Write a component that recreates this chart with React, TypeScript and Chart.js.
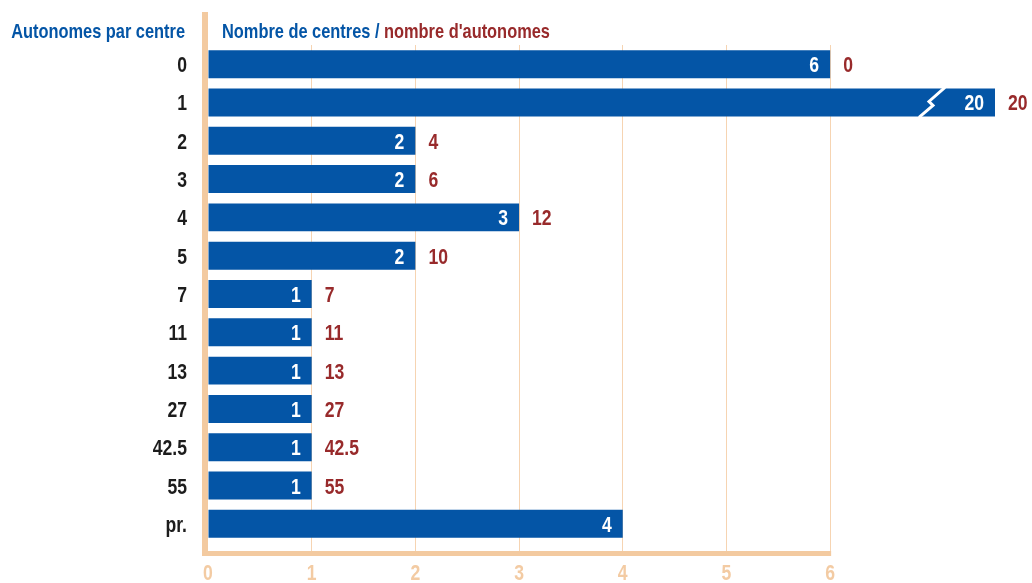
import React, { useEffect, useRef } from 'react';
import { Chart, registerables } from 'chart.js';

Chart.register(...registerables);

// ---- data ----
const categories = ['0', '1', '2', '3', '4', '5', '7', '11', '13', '27', '42.5', '55', 'pr.'];
const centres = [6, 20, 2, 2, 3, 2, 1, 1, 1, 1, 1, 1, 4];
const autonomes: (string | null)[] = ['0', '20', '4', '6', '12', '10', '7', '11', '13', '27', '42.5', '55', null];
const xTickLabels = ['0', '1', '2', '3', '4', '5', '6'];
const xTickMax = 6; // last labelled tick
const brokenIndex = 1; // bar drawn with a break (value exceeds axis)

const headerLeft = 'Autonomes par centre';
const headerBlue = 'Nombre de centres / ';
const headerRed = "nombre d'autonomes";

// ---- style ----
const BLUE = '#0455a6';
const RED = '#982a2b';
const TAN = '#f3caa0';
const TICK = '#f3cba3';
const GRID = '#f6d4b2';
const DARK = '#1c1c1c';
const FONT = "'Liberation Sans', Arial, sans-serif";
const SX = 0.8; // horizontal condensing of text

const W = 1032;
const H = 583;

function text(ctx: any, s: string, x: number, y: number, align: string, font: string, color: string, sx = SX) {
  ctx.save();
  ctx.translate(x, y);
  ctx.scale(sx, 1);
  ctx.font = font;
  ctx.fillStyle = color;
  ctx.textAlign = align;
  ctx.textBaseline = 'alphabetic';
  ctx.fillText(s, 0, 0);
  const w = ctx.measureText(s).width * sx;
  ctx.restore();
  return w;
}

const overlay = {
  id: 'overlay',
  afterDatasetsDraw(chart: any) {
    const { ctx, chartArea } = chart;
    const meta = chart.getDatasetMeta(0);
    const f = `bold 22px ${FONT}`;
    meta.data.forEach((el: any, i: number) => {
      const end = Math.min(el.x, chartArea.right);
      const y = el.y + 8;
      if (i === brokenIndex) {
        const top = el.y - el.height / 2;
        const bot = el.y + el.height / 2;
        const cx = end - 63;
        ctx.save();
        ctx.strokeStyle = '#ffffff';
        ctx.lineWidth = 3;
        ctx.beginPath();
        ctx.moveTo(cx - 13, bot + 1);
        ctx.lineTo(cx + 1, el.y + 3);
        ctx.lineTo(cx - 3, el.y - 1);
        ctx.lineTo(cx + 13, top - 1);
        ctx.stroke();
        ctx.restore();
      }
      text(ctx, String(centres[i]), end - 11, y, 'right', f, '#ffffff');
      const a = autonomes[i];
      if (a !== null) text(ctx, a, end + 13, y, 'left', f, RED);
    });
  },
  afterDraw(chart: any) {
    const { ctx, chartArea } = chart;
    const xs = chart.scales.x;
    const ys = chart.scales.y;
    const bottomY = chartArea.bottom + 8;
    ctx.save();
    ctx.fillStyle = TAN;
    // left axis line
    ctx.fillRect(chartArea.left - 6, 12, 6, bottomY + 5 - 12);
    // bottom axis line
    const xEnd = xs.getPixelForValue(xTickMax) + 1;
    ctx.fillRect(chartArea.left - 6, bottomY, xEnd - (chartArea.left - 6), 5);
    ctx.restore();
    // category labels
    categories.forEach((c, i) => {
      text(ctx, c, chartArea.left - 21, ys.getPixelForValue(i) + 8, 'right', `bold 22px ${FONT}`, DARK);
    });
    // value axis labels
    xTickLabels.forEach((t) => {
      text(ctx, t, xs.getPixelForValue(Number(t)), chartArea.bottom + 37, 'center', `bold 22px ${FONT}`, TICK);
    });
    // headers
    const hf = `bold 21px ${FONT}`;
    text(ctx, headerLeft, 185, 38, 'right', hf, BLUE, 0.78);
    const w = text(ctx, headerBlue, 222, 38, 'left', hf, BLUE, 0.78);
    text(ctx, headerRed, 222 + w, 38, 'left', hf, RED, 0.78);
  },
};

export default function App() {
  const ref = useRef<HTMLCanvasElement>(null);
  useEffect(() => {
    if (!ref.current) return;
    const chart = new Chart(ref.current, {
      type: 'bar',
      data: {
        labels: categories,
        datasets: [
          {
            data: centres,
            backgroundColor: BLUE,
            borderWidth: 0,
            barPercentage: 0.73,
            categoryPercentage: 1,
          },
        ],
      },
      options: {
        indexAxis: 'y',
        animation: false,
        responsive: false,
        maintainAspectRatio: false,
        layout: { padding: { top: 45, right: 37, bottom: 0, left: 0 } },
        plugins: { legend: { display: false }, tooltip: { enabled: false }, title: { display: false } },
        scales: {
          x: {
            type: 'linear',
            min: 0,
            max: 7.59,
            afterFit: (s: any) => {
              s.height = 40;
            },
            border: { display: false },
            grid: {
              drawTicks: true,
              tickLength: 8,
              color: (c: any) => (c.tick && c.tick.value >= 1 && c.tick.value <= xTickMax ? GRID : 'rgba(0,0,0,0)'),
              lineWidth: 1,
            },
            ticks: {
              stepSize: 1,
              display: false,
            },
          },
          y: {
            type: 'category',
            afterFit: (s: any) => {
              s.width = 208;
            },
            border: { display: false },
            grid: { display: false, drawTicks: false },
            ticks: { display: false },
          },
        },
      },
      plugins: [overlay],
    } as any);
    return () => chart.destroy();
  }, []);
  return (
    <div style={{ position: 'absolute', left: 0, top: 0, width: W, height: H, background: '#fff' }}>
      <canvas ref={ref} width={W} height={H} />
    </div>
  );
}
